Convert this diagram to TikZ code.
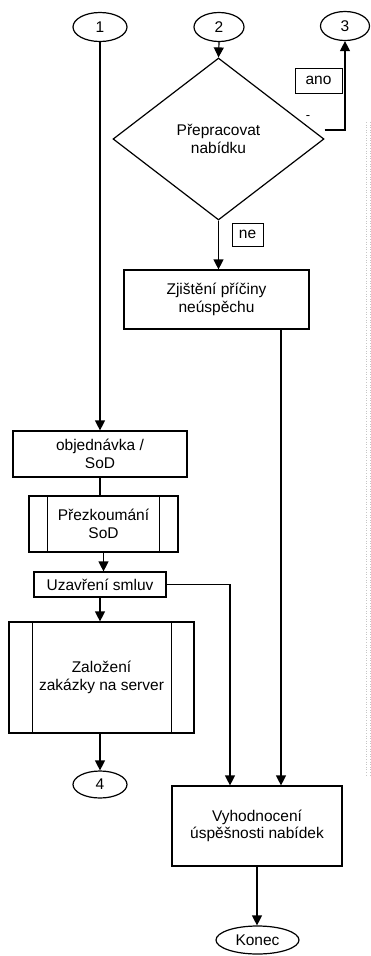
\documentclass[tikz,border=0pt]{standalone}
\usepackage{fontspec}
\setmainfont{Liberation Sans}
\usetikzlibrary{shapes.geometric,arrows.meta}

\tikzset{
  base/.style={draw=black, line width=1.2pt, fill=white, inner sep=0pt, align=center,
               font=\fontsize{15.5}{17.5}\selectfont},
  box/.style={base, rectangle, minimum width=#1},
  term/.style={base, ellipse},
  decision/.style={base, diamond},
  tag/.style={draw=black, line width=1pt, inner sep=0pt, font=\fontsize{15.5}{17}\selectfont},
  line/.style={line width=1.2pt, draw=black},
  arr/.style={line, -{Triangle[width=10pt,length=10pt]}},
}

\begin{document}
\begin{tikzpicture}[x=1pt, y=-1pt]
  \useasboundingbox[fill=white] (0,0) rectangle (371,956);

  % connector circles
  \node[term, minimum width=54pt, minimum height=29pt] (e1) at (100,27) {1};
  \node[term, minimum width=50pt, minimum height=29pt] (e2) at (219,27) {2};
  \node[term, minimum width=49pt, minimum height=29pt] (e3) at (345,26) {3};
  \node[term, minimum width=54pt, minimum height=27pt] (e4) at (100,784.5) {4};
  \node[term, minimum width=83pt, minimum height=28pt] (konec) at (257.5,940) {Konec};

  % decision
  \node[decision, minimum width=211pt, minimum height=162pt] (dia) at (218.5,139) {Přepracovat\\nabídku};

  % process boxes
  \node[box=185pt, minimum height=59pt] (z) at (216.5,299.5) {Zjištění příčiny\\neúspěchu};
  \node[box=174pt, minimum height=46pt] (o) at (100,454) {objednávka /\\SoD};
  \node[box=149pt, minimum height=56pt] (p) at (103.5,524) {Přezkoumání\\SoD};
  \node[box=132pt, minimum height=25pt] (u) at (100,584.5) {Uzavření smluv};
  \node[box=185pt, minimum height=111pt] (zal) at (101.5,677.5) {Založení\\zakázky na server};
  \node[box=170pt, minimum height=80pt] (v) at (257,826) {Vyhodnocení\\úspěšnosti nabídek};

  % side bars of the predefined-process boxes
  \draw[line] ([xshift=19pt]p.north west) -- ([xshift=19pt]p.south west);
  \draw[line] ([xshift=-19pt]p.north east) -- ([xshift=-19pt]p.south east);
  \draw[line] ([xshift=24pt]zal.north west) -- ([xshift=24pt]zal.south west);
  \draw[line] ([xshift=-23pt]zal.north east) -- ([xshift=-23pt]zal.south east);

  % branch labels
  \node[tag, minimum width=47pt, minimum height=25pt] (ano) at (318.5,80.5) {ano};
  \node[tag, minimum width=31pt, minimum height=23pt] (ne) at (247.5,234.5) {ne};
  \node[inner sep=0pt, font=\fontsize{13}{13}\selectfont] (minus) at (308,118) {-};

  % flow
  \draw[arr] (e2.south) -- (dia.north);
  \draw[arr] ([yshift=9pt]dia.east) -| (e3.south);
  \draw[arr] (dia.south) -- (dia.south |- z.north);
  \draw[arr] ([xshift=64.5pt]z.south) -- ([xshift=64.5pt]z.south |- v.north);

  \draw[arr] (e1.south) -- (o.north);
  \draw[line] (o.south) -- (o.south |- p.north);
  \draw[arr] (p.south) -- (p.south |- u.north);
  \draw[arr] (u.south) -- (u.south |- zal.north);
  \draw[arr] (e4.north |- zal.south) -- (e4.north);
  \draw[arr] (u.east) -| ([xshift=-27pt]v.north);
  \draw[arr] (v.south) -- (v.south |- konec.north);

  % faint dotted margin band on the right
  \draw[gray!45, line width=0.6pt, dotted] (366,122) -- (366,775);
  \draw[gray!45, line width=0.6pt, dotted] (370,122) -- (370,775);
\end{tikzpicture}
\end{document}
